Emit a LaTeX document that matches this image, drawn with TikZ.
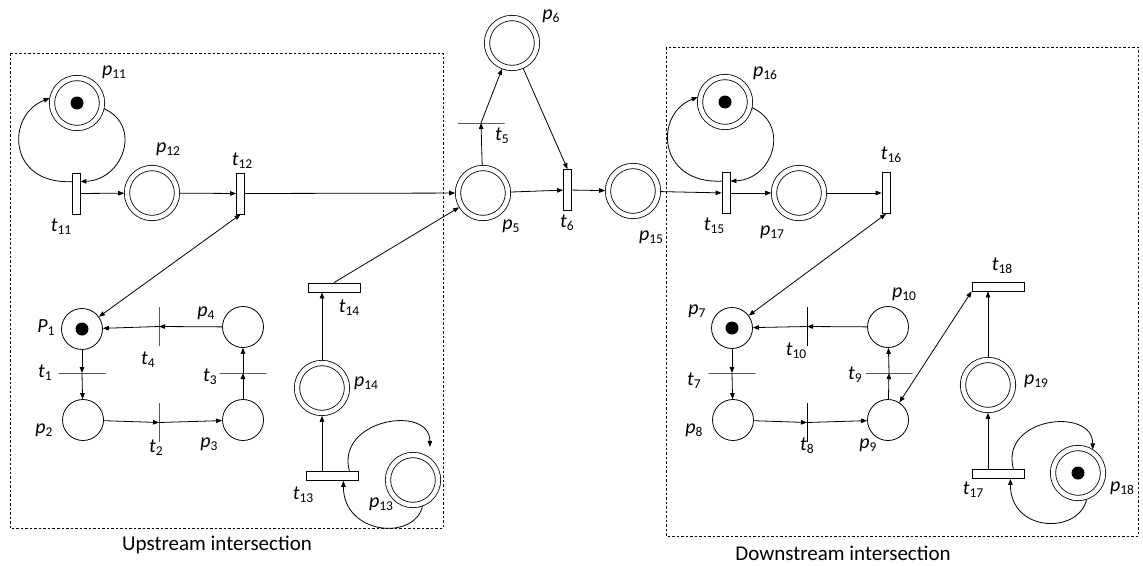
\documentclass[tikz,border=0pt]{standalone}
\usepackage{fontspec}
\setmainfont{Carlito}
\usetikzlibrary{arrows.meta}
\newcommand{\lblx}[2]{{\fontsize{20}{20}\selectfont\itshape #1}\raisebox{-3pt}{\fontsize{13.5}{13.5}\selectfont #2}}
\begin{document}
\begin{tikzpicture}[x=1pt,y=-1pt,line width=0.8pt,
  place/.style={circle,draw,minimum size=41pt,inner sep=0pt},
  dplace/.style={circle,draw,double,double distance=4.5pt,minimum size=50pt,inner sep=0pt,outer sep=2.8pt},
  token/.style={path picture={\fill[black] (path picture bounding box.center) circle (6.5pt);}},
  vtr/.style={rectangle,draw,fill=white,minimum width=8pt,minimum height=41pt,inner sep=0pt},
  htr/.style={rectangle,draw,fill=white,minimum width=52pt,minimum height=9pt,inner sep=0pt},
  hbar/.style={rectangle,draw,minimum width=47pt,minimum height=0pt,inner sep=0pt,outer sep=0pt},
  vbar/.style={rectangle,draw,minimum width=0pt,minimum height=39pt,inner sep=0pt,outer sep=0pt},
  arc/.style={-{Triangle[length=6pt,width=4.5pt]}},
  biarc/.style={{Triangle[length=6pt,width=4.5pt]}-{Triangle[length=6pt,width=4.5pt]}},
  lab/.style={inner sep=0pt},
  groupbox/.style={draw,dash pattern=on 2.5pt off 2pt,line width=0.7pt},
  caption/.style={inner sep=0pt,font=\fontsize{21}{21}\selectfont}]
\useasboundingbox[fill=white] (0,0) rectangle (1143,565);

% group frames
\draw[groupbox] (10,53) rectangle (443,528);
\draw[groupbox] (666,47) rectangle (1138,536);
\node[caption] (cup) at (217,545) {Upstream intersection};
\node[caption] (cdown) at (843,553) {Downstream intersection};

% ---- upstream places
\node[dplace,token] (p11) at (77,103) {};
\node[dplace] (p12) at (152,193) {};
\node[place,token] (P1) at (82,329) {};
\node[place] (p2) at (83,420) {};
\node[place] (p3) at (243,420) {};
\node[place] (p4) at (243,327) {};
\node[dplace] (p14) at (322,388) {};
\node[dplace] (p13) at (413,480) {};
% ---- middle
\node[dplace] (p5) at (483,193) {};
\node[dplace] (p6) at (512,43) {};
\node[dplace] (p15) at (633,191) {};
% ---- downstream places
\node[dplace,token] (p16) at (725,102) {};
\node[dplace] (p17) at (799,193) {};
\node[place,token] (p7) at (732,328) {};
\node[place] (p8) at (733,420) {};
\node[place] (p9) at (888,420) {};
\node[place] (p10) at (888,327) {};
\node[dplace] (p19) at (988,385) {};
\node[dplace,token] (p18) at (1078,473) {};

% ---- transitions
\node[vtr] (t11) at (76,193.5) {};
\node[vtr] (t12) at (240.5,193.5) {};
\node[hbar] (t1) at (82,373) {};
\node[vbar] (t2) at (159,422.5) {};
\node[hbar] (t3) at (243,373) {};
\node[vbar] (t4) at (159,326.5) {};
\node[htr] (t14) at (334,287.5) {};
\node[htr] (t13) at (332,476) {};
\node[hbar] (t5) at (481,123) {};
\node[vtr] (t6) at (567.5,190) {};
\node[vtr] (t15) at (726,193) {};
\node[vtr] (t16) at (886,193) {};
\node[hbar] (t7) at (732,373) {};
\node[vbar] (t8) at (807,422.5) {};
\node[hbar] (t9) at (889,373) {};
\node[vbar] (t10) at (807,326.5) {};
\node[htr] (t18) at (998,286.5) {};
\node[htr] (t17) at (998,474) {};

% ---- labels
\node[lab] (lp11) at (114,72) {\lblx{p}{11}};
\node[lab] (lt11) at (61,227) {\lblx{t}{11}};
\node[lab] (lp12) at (168,149) {\lblx{p}{12}};
\node[lab] (lt12) at (242,161) {\lblx{t}{12}};
\node[lab] (lP1) at (46,328) {\lblx{P}{1}};
\node[lab] (lt1) at (45,373) {\lblx{t}{1}};
\node[lab] (lp2) at (44,430) {\lblx{p}{2}};
\node[lab] (lt2) at (156,448) {\lblx{t}{2}};
\node[lab] (lp3) at (209,444) {\lblx{p}{3}};
\node[lab] (lt3) at (210,377) {\lblx{t}{3}};
\node[lab] (lp4) at (206,313) {\lblx{p}{4}};
\node[lab] (lt4) at (148,360) {\lblx{t}{4}};
\node[lab] (lt14) at (349,308) {\lblx{t}{14}};
\node[lab] (lp14) at (366,383) {\lblx{p}{14}};
\node[lab] (lt13) at (303,495) {\lblx{t}{13}};
\node[lab] (lp13) at (381,504) {\lblx{p}{13}};
\node[lab] (lp6) at (551,16) {\lblx{p}{6}};
\node[lab] (lt5) at (502,136) {\lblx{t}{5}};
\node[lab] (lp5) at (511,226) {\lblx{p}{5}};
\node[lab] (lt6) at (567,223) {\lblx{t}{6}};
\node[lab] (lp15) at (651,237) {\lblx{p}{15}};
\node[lab] (lp16) at (765,73) {\lblx{p}{16}};
\node[lab] (lt15) at (714,226) {\lblx{t}{15}};
\node[lab] (lp17) at (772,232) {\lblx{p}{17}};
\node[lab] (lt16) at (891,155) {\lblx{t}{16}};
\node[lab] (lp7) at (697,311) {\lblx{p}{7}};
\node[lab] (lt7) at (694,381) {\lblx{t}{7}};
\node[lab] (lp8) at (694,430) {\lblx{p}{8}};
\node[lab] (lt8) at (807,446) {\lblx{t}{8}};
\node[lab] (lp9) at (868,445) {\lblx{p}{9}};
\node[lab] (lt9) at (855,375) {\lblx{t}{9}};
\node[lab] (lp10) at (904,294) {\lblx{p}{10}};
\node[lab] (lt10) at (796,351) {\lblx{t}{10}};
\node[lab] (lt18) at (1002,266) {\lblx{t}{18}};
\node[lab] (lp19) at (1036,381) {\lblx{p}{19}};
\node[lab] (lt17) at (973,490) {\lblx{t}{17}};
\node[lab] (lp18) at (1122,488) {\lblx{p}{18}};

% ---- connectors upstream
\draw[arc] (p11.-12) .. controls +(38,17) and +(43,-2) .. ([yshift=-9pt]t11.north east);
\draw[arc] ([yshift=-9pt]t11.north west) .. controls +(-64,3) and +(-44,17) .. (p11.170);
\draw[arc] (t11) -- (p12);
\draw[arc] (p12) -- (t12);
\draw[arc] (t12) -- (p5);
\draw[biarc] (t12.south) -- (P1);
\draw[arc] (P1) -- (t1);
\draw[arc] (t1) -- (p2);
\draw[arc] (p2) -- (t2);
\draw[arc] (t2) -- (p3);
\draw[arc] (p3) -- (t3);
\draw[arc] (t3) -- (p4);
\draw[arc] (p4) -- (t4);
\draw[arc] (t4) -- (P1);
\draw[arc] (p14 |- t13.north) -- (p14);
\draw[arc] (p14) -- (p14 |- t14.south);
\draw[arc] (t14.north) -- (p5);
\draw[arc] ([xshift=-9pt]t13.north east) .. controls +(-14,-52) and +(0,-43) .. ([shift={(3pt,9pt)}]p13.60);
\draw[arc] (p13.-70) .. controls +(-8,35) and +(0,54) .. ([xshift=-15pt]t13.south east);
% ---- middle
\draw[arc] (p5) -- (t5);
\draw[arc] (t5) -- (p6);
\draw[arc] (p6) -- (t6.north);
\draw[arc] (p5) -- (t6);
\draw[arc] (t6) -- (p15);
\draw[arc] (p15) -- (t15);
% ---- downstream
\draw[arc] (p16.-12) .. controls +(38,17) and +(43,-2) .. ([yshift=-9pt]t15.north east);
\draw[arc] ([yshift=-9pt]t15.north west) .. controls +(-64,3) and +(-44,17) .. (p16.170);
\draw[arc] (t15) -- (p17);
\draw[arc] (p17) -- (t16);
\draw[biarc] (t16.south) -- (p7);
\draw[arc] (p7) -- (t7);
\draw[arc] (t7) -- (p8);
\draw[arc] (p8) -- (t8);
\draw[arc] (t8) -- (p9);
\draw[arc] (p9) -- (t9);
\draw[arc] (t9) -- (p10);
\draw[arc] (p10) -- (t10);
\draw[arc] (t10) -- (p7);
\draw[biarc] (p9) -- (t18.south west);
\draw[arc] (p19 |- t17.north) -- (p19);
\draw[arc] (p19) -- (p19 |- t18.south);
\draw[arc] ([xshift=-11pt]t17.north east) .. controls +(-14,-52) and +(0,-43) .. (p18.58);
\draw[arc] (p18.-72) .. controls +(-8,35) and +(0,54) .. ([xshift=-14pt]t17.south east);
\end{tikzpicture}
\end{document}
